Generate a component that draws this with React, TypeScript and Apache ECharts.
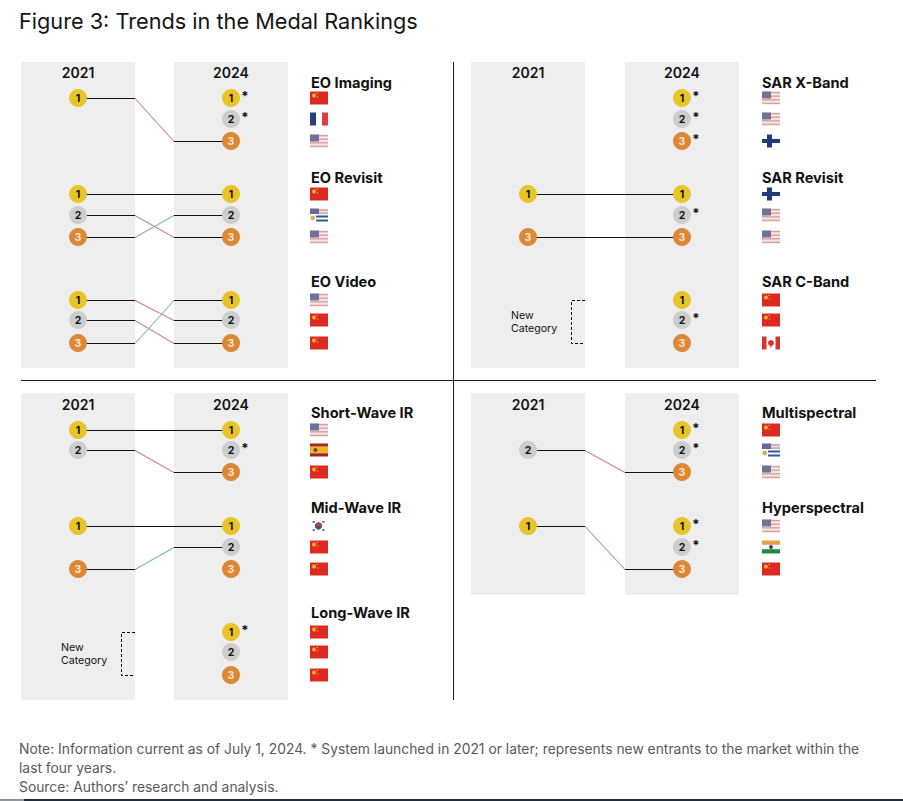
import React, { useEffect, useRef } from "react";
import * as echarts from "echarts";

const titleText = "Figure 3: Trends in the Medal Rankings";
const years = ["2021", "2024"];
const categories = ["EO Imaging", "EO Revisit", "EO Video", "SAR X-Band", "SAR Revisit", "SAR C-Band", "Short-Wave IR", "Mid-Wave IR", "Long-Wave IR", "Multispectral", "Hyperspectral"];
const ranks2021 = [[1], [1, 2, 3], [1, 2, 3], [], [1, 3], [], [1, 2], [1, 3], [], [2], [1]];
const ranks2024 = [[3], [1, 3, 2], [2, 3, 1], [], [1, 3], [], [1, 3], [1, 2], [], [3], [3]];
const starred2024 = [[1, 2], [], [], [1, 2, 3], [2], [2], [2], [], [1], [1, 2], [1, 2]];
const flags = [
  ["cn", "fr", "us"], ["cn", "usuy", "us"], ["us", "cn", "cn"],
  ["us", "us", "fi"], ["fi", "us", "us"], ["cn", "cn", "ca"],
  ["us", "es", "cn"], ["kr", "cn", "cn"], ["cn", "cn", "cn"],
  ["cn", "usuy", "us"], ["us", "in", "cn"],
];
const newCategories = ["SAR C-Band", "Long-Wave IR"];
const newLabel = ["New", "Category"];
const noteLines = [
  "Note: Information current as of July 1, 2024. * System launched in 2021 or later; represents new entrants to the market within the",
  "last four years.",
  "Source: Authors\u2019 research and analysis.",
];

// layout (page pixels, mapped by the hidden full-page axes)
const panelOf = [0, 0, 0, 1, 1, 1, 2, 2, 2, 3, 3];
const slotOf = [0, 1, 2, 0, 1, 2, 0, 1, 2, 0, 1];
const shiftA = [0, 450, 0, 450];
const shiftB = [0, 451, 0, 451];
const shiftFlag = [0, 452, 0, 452];
const panelTop = [62, 62, 393, 393];
const panelBottom = [368, 368, 700, 595];
const yearRow = [72, 72, 404, 404];
const bandA = [21, 135];
const bandB = [174, 288];
const medalA = 78;
const medalB = 231;
const flagX = 310;
const flagW = 18;
const flagH = 13;
const labelX = 311;
const rowsTop = [[98, 119, 141], [194, 215, 237], [300, 320, 343]];
const rowsBottom = [[430, 450, 472], [526, 547, 569], [632, 652, 675]];
const labelTop = [82, 177, 281];
const labelBottom = [412, 507, 612];

const rowsFor = (i: number) => (panelOf[i] < 2 ? rowsTop : rowsBottom)[slotOf[i]];
const labelYFor = (i: number) => (panelOf[i] < 2 ? labelTop : labelBottom)[slotOf[i]];

const GOLD = "#E8C42A";
const SILVER = "#CDCDCD";
const BRONZE = "#DC8836";
const BAND = "#EEEEEE";
const INK = "#111111";
const FONT = "Inter, 'Noto Sans', sans-serif";

const medalColor = [GOLD, SILVER, BRONZE];

const medalPoints = (rank: number) => {
  const out: number[][] = [];
  categories.forEach((_, i) => {
    const p = panelOf[i];
    const r = rowsFor(i);
    ranks2021[i].forEach((k) => {
      if (k === rank) out.push([medalA + shiftA[p], r[k - 1]]);
    });
    [1, 2, 3].forEach((k) => {
      if (k === rank) out.push([medalB + shiftB[p], r[k - 1]]);
    });
  });
  return out;
};

type Link = { p: number; y0: number; y1: number };
const links: Link[] = [];
categories.forEach((_, i) => {
  const r = rowsFor(i);
  ranks2021[i].forEach((k, j) => {
    links.push({ p: panelOf[i], y0: r[k - 1], y1: r[ranks2024[i][j] - 1] });
  });
});

const stars: number[][] = [];
categories.forEach((_, i) => {
  const r = rowsFor(i);
  starred2024[i].forEach((k) => stars.push([medalB + shiftB[panelOf[i]] + 14, r[k - 1] - 5]));
});

const flagCells: { x: number; y: number; code: string }[] = [];
categories.forEach((_, i) => {
  const r = rowsFor(i);
  flags[i].forEach((code, k) => flagCells.push({ x: flagX + shiftFlag[panelOf[i]], y: r[k], code }));
});

const bands: number[][] = [];
shiftA.forEach((_, p) => {
  bands.push([bandA[0] + shiftA[p], panelTop[p], bandA[1] + shiftA[p], panelBottom[p]]);
  bands.push([bandB[0] + shiftB[p], panelTop[p], bandB[1] + shiftB[p], panelBottom[p]]);
});

function flagChildren(code: string) {
  const w = flagW;
  const h = flagH;
  const rect = (x: number, y: number, ww: number, hh: number, fill: string) => ({ type: "rect", shape: { x, y, width: ww, height: hh }, style: { fill } });
  const dot = (cx: number, cy: number, r: number, fill: string) => ({ type: "circle", shape: { cx, cy, r }, style: { fill } });
  switch (code) {
    case "cn":
      return [rect(0, 0, w, h, "#DC2A20"), dot(4, 4, 2, "#F0B030"), dot(7, 2, 0.7, "#F0B030"), dot(7.5, 5.5, 0.7, "#F0B030")];
    case "fr":
      return [rect(0, 0, 6, h, "#2A3F80"), rect(6, 0, 6, h, "#FFFFFF"), rect(12, 0, 6, h, "#E23A44")];
    case "us": {
      const s: any[] = [rect(0, 0, w, h, "#F6E6E4")];
      for (let k = 0; k < 4; k++) s.push(rect(0, k * 3.6 + 0.4, w, 1.4, "#D9A0A0"));
      s.push(rect(0, 0, 9, 7, "#6E7398"));
      return s;
    }
    case "usuy": {
      const s: any[] = [rect(0, 0, w, 6, "#F4E4E4"), rect(0, 1, w, 1.2, "#C99191"), rect(0, 4, w, 1.2, "#C99191"), rect(0, 0, 9, 5.5, "#666C96")];
      s.push(rect(6, 7, 12, 2, "#2D5C95"), rect(6, 11, 12, 2, "#2D5C95"), dot(2.7, 9.5, 2.4, "#D5AE60"));
      return s;
    }
    case "fi":
      return [rect(0, 4.5, w, 4, "#1E3C78"), rect(5, 0, 5, h, "#1E3C78")];
    case "ca":
      return [rect(0, 0, 4.5, h, "#D8332F"), rect(13.5, 0, 4.5, h, "#D8332F"), dot(9, 6.5, 3, "#D8332F"), rect(8.4, 8, 1.2, 3, "#D8332F")];
    case "es":
      return [rect(0, 0, w, 3.2, "#A3261C"), rect(0, 3.2, w, 6.6, "#F2B32A"), rect(0, 9.8, w, 3.2, "#A3261C"), dot(5.5, 6.5, 2, "#6B4A20")];
    case "kr":
      return [dot(8.5, 6.5, 3.6, "#3A4E9A"),
        { type: "sector", shape: { cx: 8.5, cy: 6.5, r: 3.6, r0: 0, startAngle: Math.PI, endAngle: 2 * Math.PI }, style: { fill: "#BF3B48" } },
        rect(2.5, 1.5, 2.4, 1.8, "#6C7088"), rect(12.2, 1.5, 2.4, 1.8, "#6C7088"), rect(2.5, 9.7, 2.4, 1.8, "#6C7088"), rect(12.2, 9.7, 2.4, 1.8, "#6C7088")];
    case "in":
      return [rect(0, 0, w, 4.3, "#E8A040"), rect(0, 8.7, w, 4.3, "#1F8A3E"), dot(9, 6.5, 1.9, "#2A3A70")];
    default:
      return [];
  }
}

const textEl = (x: number, y: number, text: string, size: number, weight: any, fill = INK, align = "left") => ({
  type: "text",
  x,
  y,
  style: { text, fontSize: size, fontWeight: weight, fontFamily: FONT, fill, align, verticalAlign: "middle" },
});

const option: any = {
  animation: false,
  backgroundColor: "#FFFFFF",
  title: {
    text: titleText,
    left: 14,
    top: 5,
    textStyle: { fontFamily: FONT, fontSize: 21.7, fontWeight: 400, color: "#141414" },
  },
  grid: { left: 0, top: 0, width: 903, height: 801, containLabel: false },
  xAxis: { type: "value", min: 0, max: 903, show: false },
  yAxis: { type: "value", min: 0, max: 801, inverse: true, show: false },
  series: [
    {
      type: "custom",
      name: "bands",
      z: 1,
      silent: true,
      clip: false,
      data: bands,
      renderItem: (_p: any, api: any) => {
        const a = api.coord([api.value(0), api.value(1)]);
        const b = api.coord([api.value(2), api.value(3)]);
        return { type: "rect", shape: { x: a[0], y: a[1], width: b[0] - a[0], height: b[1] - a[1] }, style: { fill: BAND } };
      },
    },
    {
      type: "custom",
      name: "dividers",
      z: 2,
      silent: true,
      clip: false,
      data: [[453.5, 62, 453.5, 700], [21, 380.5, 876, 380.5]],
      renderItem: (_p: any, api: any) => {
        const a = api.coord([api.value(0), api.value(1)]);
        const b = api.coord([api.value(2), api.value(3)]);
        return { type: "line", shape: { x1: a[0], y1: a[1], x2: b[0], y2: b[1] }, style: { stroke: "#1c1c1c", lineWidth: 1 } };
      },
    },
    {
      type: "custom",
      name: "links",
      z: 3,
      silent: true,
      clip: false,
      data: links.map((l) => [l.p, l.y0 + 0.5, l.y1 + 0.5]),
      renderItem: (_p: any, api: any) => {
        const panel = api.value(0);
        const y0 = api.value(1);
        const y1 = api.value(2);
        const pa = (x: number, y: number) => api.coord([x + shiftA[panel], y]);
        const pb = (x: number, y: number) => api.coord([x + shiftB[panel], y]);
        const color = y1 > y0 ? "#C8898C" : y1 < y0 ? "#7FBBA2" : INK;
        return {
          type: "group",
          children: [
            { type: "polyline", shape: { points: [pa(bandA[1], y0), pb(bandB[0], y1)] }, style: { stroke: color, lineWidth: 1.1, fill: "none" } },
            { type: "polyline", shape: { points: [pa(medalA, y0), pa(bandA[1], y0)] }, style: { stroke: INK, lineWidth: 1, fill: "none" } },
            { type: "polyline", shape: { points: [pb(bandB[0], y1), pb(medalB, y1)] }, style: { stroke: INK, lineWidth: 1, fill: "none" } },
          ],
        };
      },
    },
    ...[1, 2, 3].map((rank) => ({
      type: "scatter",
      name: `Rank ${rank}`,
      z: 4,
      silent: true,
      symbol: "circle",
      symbolSize: 18,
      data: medalPoints(rank),
      itemStyle: { color: medalColor[rank - 1], opacity: 1 },
      label: {
        show: true,
        position: "inside",
        formatter: String(rank),
        fontFamily: FONT,
        fontSize: 10.5,
        fontWeight: 700,
        color: rank === 3 ? "#F8E4CE" : INK,
      },
    })),
    {
      type: "custom",
      name: "asterisks",
      z: 5,
      silent: true,
      clip: false,
      data: stars,
      renderItem: (_p: any, api: any) => {
        const c = api.coord([api.value(0), api.value(1)]);
        return textEl(c[0], c[1] + 2.5, "*", 13, 700, INK, "center");
      },
    },
    {
      type: "custom",
      name: "flags",
      z: 5,
      silent: true,
      clip: false,
      data: flagCells.map((c) => [c.x, c.y]),
      renderItem: (p: any, api: any) => {
        const c = api.coord([api.value(0), api.value(1)]);
        return { type: "group", x: c[0], y: c[1] - flagH / 2, children: flagChildren(flagCells[p.dataIndex].code) };
      },
    },
    {
      type: "custom",
      name: "category labels",
      z: 5,
      silent: true,
      clip: false,
      data: categories.map((_, i) => [labelX + shiftB[panelOf[i]], labelYFor(i) + 0.5]),
      renderItem: (p: any, api: any) => {
        const c = api.coord([api.value(0), api.value(1)]);
        return textEl(c[0], c[1], categories[p.dataIndex], 14.6, 700);
      },
    },
    {
      type: "custom",
      name: "year labels",
      z: 5,
      silent: true,
      clip: false,
      data: shiftA.flatMap((_, p) => [[medalA + shiftA[p], yearRow[p]], [medalB + shiftB[p], yearRow[p]]]),
      renderItem: (p: any, api: any) => {
        const c = api.coord([api.value(0), api.value(1)]);
        return textEl(c[0], c[1], years[p.dataIndex % 2], 14, 600, INK, "center");
      },
    },
    {
      type: "custom",
      name: "new category",
      z: 5,
      silent: true,
      clip: false,
      data: newCategories.map((n) => {
        const i = categories.indexOf(n);
        return [panelOf[i], rowsFor(i)[0], rowsFor(i)[2]];
      }),
      renderItem: (_p: any, api: any) => {
        const panel = api.value(0);
        const top = api.value(1);
        const bottom = api.value(2);
        const mid = (top + bottom) / 2;
        const p = (x: number, y: number) => api.coord([x + shiftA[panel], y]);
        const t0 = p(60 + (panel ? 1 : 0), mid - 6.5);
        const t1 = p(60 + (panel ? 1 : 0), mid + 6.5);
        return {
          type: "group",
          children: [
            { type: "polyline", shape: { points: [p(135, top + 0.5), p(121.5, top + 0.5), p(121.5, bottom + 0.5), p(135, bottom + 0.5)] }, style: { stroke: "#000", lineWidth: 1, lineDash: [3, 2], fill: "none" } },
            textEl(t0[0], t0[1], newLabel[0], 10.6, 400),
            textEl(t1[0], t1[1], newLabel[1], 10.6, 400),
          ],
        };
      },
    },
  ],
  graphic: [
    ...noteLines.map((text, i) => ({
      type: "text",
      left: 19,
      top: 742 + i * 19,
      style: { text, fontFamily: FONT, fontSize: 13.85, fill: "#5A5A5A" },
    })),
    { type: "rect", left: 0, top: 799, shape: { width: 24, height: 2 }, style: { fill: "#8E969C" } },
    { type: "rect", left: 24, top: 799, shape: { width: 879, height: 2 }, style: { fill: "#1D2B3A" } },
  ],
};

export default function App() {
  const ref = useRef<HTMLDivElement>(null);
  useEffect(() => {
    const chart = echarts.init(ref.current!, undefined, { renderer: "svg", width: 903, height: 801 });
    chart.setOption(option);
    return () => chart.dispose();
  }, []);
  return <div ref={ref} style={{ position: "absolute", left: 0, top: 0, width: 903, height: 801 }} />;
}
